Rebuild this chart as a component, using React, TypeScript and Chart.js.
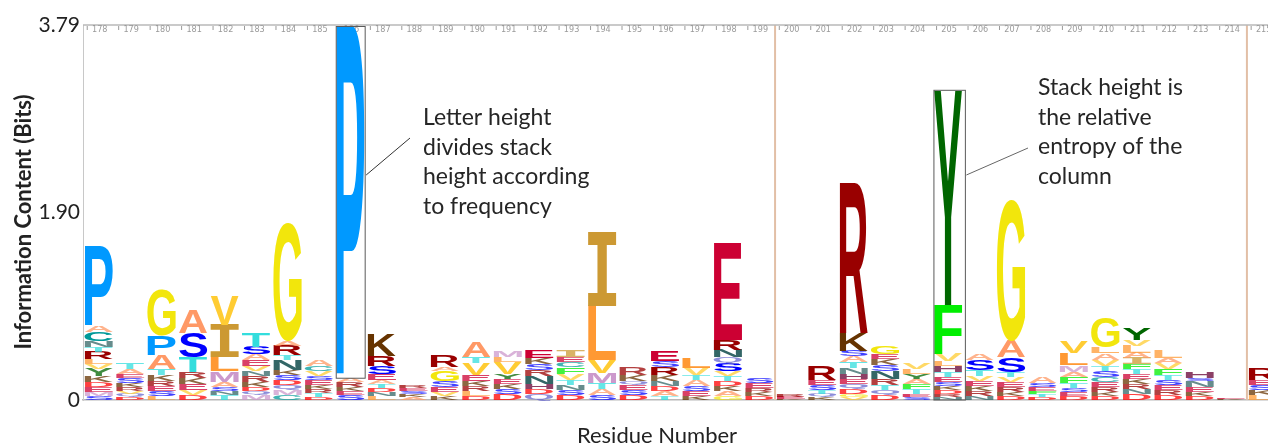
import { useEffect, useRef } from "react";
import { Chart, registerables } from "chart.js";

Chart.register(...registerables);

// Residue numbers (columns of the logo)
const residues = [
  178, 179, 180, 181, 182, 183, 184, 185, 186, 187, 188, 189, 190, 191, 192, 193, 194, 195, 196,
  197, 198, 199, 200, 201, 202, 203, 204, 205, 206, 207, 208, 209, 210, 211, 212, 213, 214, 215,
];

// Letters of each stack, listed from top to bottom
const stackLetters = [
  "PACNTRLVYKDEMS", "TAESKRVQD", "GPATKRESL", "ASTRKEVD", "VILMASNT", "TSAEVNRKDQM",
  "GARTNKSDQMC", "ACVSEKRTD", "PARKES", "KRSEATDNL", "RESKA", "RAGSEVK", "ATVEKRLD",
  "MLVYEKSD", "EKSRNHDQ", "IECFVTNSD", "ILVMTAS", "RKQESD", "ESRKNDAT", "LVTASEK",
  "ERNQSVTDKAG", "SERKD", "REK", "RESTQK", "RKSATNHEQDGV", "GEKSNRTQD", "VLYAFTES",
  "YFVLHTESKDRN", "ASTVEKRN", "GASTVERKD", "ASEFTD", "VLMAFTSED", "GLAVTSCERKD",
  "YVLAIFTEKRND", "LAVFTSERD", "HSNEKD", "EK", "RESKL",
];

// Letter heights in bits, same order as the letters
const stackBits = [
  [0.81, 0.06, 0.09, 0.06, 0.05, 0.08, 0.05, 0.05, 0.07, 0.06, 0.05, 0.05, 0.04, 0.04],
  [0.06, 0.05, 0.04, 0.05, 0.04, 0.04, 0.03, 0.03, 0.03],
  [0.46, 0.2, 0.14, 0.06, 0.06, 0.05, 0.05, 0.05, 0.04],
  [0.23, 0.25, 0.15, 0.06, 0.06, 0.06, 0.05, 0.05],
  [0.3, 0.33, 0.14, 0.11, 0.05, 0.04, 0.04, 0.05],
  [0.14, 0.08, 0.06, 0.06, 0.05, 0.05, 0.06, 0.05, 0.04, 0.04, 0.05],
  [1.2, 0.05, 0.1, 0.05, 0.1, 0.05, 0.05, 0.05, 0.05, 0.05, 0.05],
  [0.06, 0.05, 0.05, 0.04, 0.05, 0.04, 0.04, 0.04, 0.03],
  [3.57, 0.04, 0.05, 0.04, 0.04, 0.05],
  [0.22, 0.1, 0.08, 0.06, 0.04, 0.04, 0.04, 0.04, 0.04],
  [0.03, 0.03, 0.03, 0.03, 0.03],
  [0.12, 0.04, 0.1, 0.06, 0.05, 0.04, 0.04],
  [0.15, 0.06, 0.12, 0.06, 0.05, 0.05, 0.05, 0.04],
  [0.07, 0.05, 0.12, 0.05, 0.05, 0.05, 0.05, 0.06],
  [0.08, 0.06, 0.06, 0.06, 0.08, 0.05, 0.05, 0.06],
  [0.07, 0.05, 0.05, 0.07, 0.06, 0.05, 0.05, 0.05, 0.05],
  [0.75, 0.55, 0.13, 0.1, 0.06, 0.06, 0.05],
  [0.07, 0.06, 0.04, 0.05, 0.05, 0.05],
  [0.1, 0.06, 0.08, 0.06, 0.05, 0.05, 0.05, 0.04],
  [0.1, 0.07, 0.05, 0.06, 0.05, 0.05, 0.04],
  [0.98, 0.1, 0.08, 0.06, 0.08, 0.05, 0.05, 0.05, 0.05, 0.05, 0.04],
  [0.05, 0.05, 0.04, 0.04, 0.04],
  [0.02, 0.02, 0.01],
  [0.14, 0.05, 0.05, 0.04, 0.03, 0.03],
  [1.52, 0.18, 0.06, 0.06, 0.06, 0.06, 0.05, 0.05, 0.05, 0.05, 0.03, 0.03],
  [0.08, 0.05, 0.06, 0.06, 0.08, 0.06, 0.05, 0.05, 0.05],
  [0.06, 0.05, 0.05, 0.05, 0.05, 0.05, 0.03, 0.03],
  [2.17, 0.5, 0.07, 0.05, 0.06, 0.05, 0.05, 0.04, 0.04, 0.04, 0.03, 0.03],
  [0.07, 0.1, 0.06, 0.05, 0.05, 0.05, 0.05, 0.04],
  [1.42, 0.17, 0.15, 0.05, 0.05, 0.05, 0.05, 0.04, 0.04],
  [0.06, 0.04, 0.04, 0.03, 0.03, 0.03],
  [0.12, 0.12, 0.07, 0.05, 0.06, 0.05, 0.04, 0.04, 0.04],
  [0.3, 0.06, 0.07, 0.06, 0.05, 0.06, 0.05, 0.05, 0.05, 0.04, 0.04],
  [0.12, 0.06, 0.07, 0.06, 0.06, 0.05, 0.05, 0.05, 0.05, 0.05, 0.05, 0.06],
  [0.07, 0.05, 0.06, 0.06, 0.05, 0.05, 0.05, 0.05, 0.05],
  [0.06, 0.03, 0.06, 0.05, 0.04, 0.04],
  [0.01, 0.01],
  [0.12, 0.05, 0.05, 0.05, 0.05],
];

const yTickValues = [0, 1.895, 3.79];
const yTickLabels = ["0", "1.90", "3.79"];
const dividerResidues = [199.5, 214.5];
const highlightedResidues = [186, 205];

const letterColors: Record<string, string> = {
  A: "#FF9966", C: "#009999", D: "#FF0000", E: "#CC0033", F: "#00EE00", G: "#F2E60C",
  H: "#660033", I: "#CC9933", K: "#663300", L: "#FF9933", M: "#CC99CC", N: "#336666",
  P: "#0099FF", Q: "#6666CC", R: "#990000", S: "#0000FF", T: "#33DDDD", V: "#FFCC33",
  W: "#66CC66", Y: "#006600",
};

const UI_FONT = "Lato, 'Open Sans', sans-serif";
const LETTER_FONT = "bold 100px 'Liberation Sans', Arial, sans-serif";
const SERIF_I_FONT = "bold 100px 'DejaVu Sans Mono', 'Liberation Mono', monospace";

export default function App() {
  const ref = useRef<HTMLCanvasElement>(null);

  useEffect(() => {
    document.body.style.margin = "0";
    document.body.style.overflow = "hidden";
    const canvas = ref.current!;

    const maxLen = Math.max(...stackLetters.map((s) => s.length));
    const datasets: any[] = [];
    for (let k = 0; k < maxLen; k++) {
      const letters: string[] = [];
      const data = residues.map((r, i) => {
        const L = stackLetters[i];
        const idx = L.length - 1 - k;
        letters.push(idx >= 0 ? L[idx] : "");
        return { x: r, y: idx >= 0 ? stackBits[i][idx] : 0 };
      });
      datasets.push({
        label: "rank" + k,
        data,
        letters,
        backgroundColor: "rgba(0,0,0,0)",
        borderWidth: 0,
        categoryPercentage: 0.9,
        barPercentage: 1,
      });
    }

    const fontFor = (ch: string) => (ch === "I" ? SERIF_I_FONT : LETTER_FONT);
    const glyphCache: Record<string, any> = {};
    const measure = (c: CanvasRenderingContext2D, ch: string) => {
      if (!glyphCache[ch]) {
        c.font = fontFor(ch);
        const m = c.measureText(ch);
        glyphCache[ch] = {
          l: m.actualBoundingBoxLeft,
          r: m.actualBoundingBoxRight,
          a: m.actualBoundingBoxAscent,
          d: m.actualBoundingBoxDescent,
        };
      }
      return glyphCache[ch];
    };

    const logoPlugin = {
      id: "logoPlugin",
      beforeDatasetsDraw(chart: any) {
        const c = chart.ctx as CanvasRenderingContext2D;
        const xs = chart.scales.x;
        const area = chart.chartArea;
        c.save();
        // divider lines
        c.strokeStyle = "#E2BFA6";
        c.lineWidth = 2;
        dividerResidues.forEach((v) => {
          const px = xs.getPixelForValue(v);
          c.beginPath();
          c.moveTo(px, area.top);
          c.lineTo(px, area.bottom);
          c.stroke();
        });
        // top border
        c.strokeStyle = "#B8B8B8";
        c.lineWidth = 1.5;
        c.beginPath();
        c.moveTo(area.left, area.top);
        c.lineTo(area.right, area.top);
        c.stroke();
        // top residue labels & tick marks
        c.font = "9px 'Liberation Sans Narrow', 'DejaVu Sans Condensed', sans-serif";
        c.fillStyle = "#9A9A9A";
        c.textAlign = "center";
        c.textBaseline = "middle";
        c.strokeStyle = "#9A9A9A";
        c.lineWidth = 1;
        residues.forEach((r) => {
          const px = xs.getPixelForValue(r);
          if (px > area.right + 10) return;
          c.fillText(String(r), px + 1, area.top + 4.5);
          c.beginPath();
          c.moveTo(px - 11.5, area.top + 1);
          c.lineTo(px - 11.5, area.top + 5);
          c.stroke();
        });
        c.restore();
      },
      afterDatasetsDraw(chart: any) {
        const c = chart.ctx as CanvasRenderingContext2D;
        const xs = chart.scales.x;
        const ys = chart.scales.y;
        c.save();
        chart.data.datasets.forEach((ds: any, d: number) => {
          const meta = chart.getDatasetMeta(d);
          meta.data.forEach((bar: any, i: number) => {
            const ch = ds.letters[i];
            if (!ch) return;
            const p = bar.getProps(["x", "y", "base", "width"], true);
            const top = Math.min(p.y, p.base);
            const h = Math.abs(p.base - p.y);
            if (h < 0.4) return;
            const g = measure(c, ch);
            const gw = g.l + g.r;
            const gh = g.a + g.d;
            c.save();
            c.globalAlpha = h < 7 ? 0.75 : 1;
            c.translate(p.x - p.width / 2, top);
            c.scale(p.width / gw, h / gh);
            c.font = fontFor(ch);
            c.textAlign = "left";
            c.textBaseline = "alphabetic";
            c.fillStyle = letterColors[ch] || "#888";
            c.fillText(ch, g.l, g.a);
            c.restore();
          });
        });

        // highlight boxes around two columns
        c.strokeStyle = "#5A5A5A";
        c.lineWidth = 1;
        const stackTop = (r: number) => {
          const i = residues.indexOf(r);
          return stackBits[i].reduce((s, v) => s + v, 0);
        };
        const r1 = highlightedResidues[0];
        const i1 = residues.indexOf(r1);
        const pBottom = stackTop(r1) - stackBits[i1][0];
        const bx1 = xs.getPixelForValue(r1 - 0.45);
        const bx2 = xs.getPixelForValue(r1 + 0.47);
        const by1 = ys.getPixelForValue(stackTop(r1)) + 1.5;
        c.strokeRect(bx1, by1, bx2 - bx1, ys.getPixelForValue(pBottom) - by1);
        const r2 = highlightedResidues[1];
        const yx1 = xs.getPixelForValue(r2 - 0.45);
        const yx2 = xs.getPixelForValue(r2 + 0.55);
        const yy1 = ys.getPixelForValue(stackTop(r2));
        c.strokeRect(yx1, yy1, yx2 - yx1, ys.getPixelForValue(0) - yy1);

        // annotation pointer lines
        c.strokeStyle = "#333";
        c.beginPath();
        c.moveTo(410, 138);
        c.lineTo(bx2 + 1, 175);
        c.stroke();
        c.strokeStyle = "#666";
        c.beginPath();
        c.moveTo(1028, 148);
        c.lineTo(yx2 + 1, 175);
        c.stroke();

        // annotation texts
        c.fillStyle = "#262626";
        c.font = `23px ${UI_FONT}`;
        c.textAlign = "left";
        c.textBaseline = "middle";
        ["Letter height", "divides stack", "height according", "to frequency"].forEach((t, k) =>
          c.fillText(t, 423, 118 + k * 29.5)
        );
        ["Stack height is", "the relative", "entropy of the", "column"].forEach((t, k) =>
          c.fillText(t, 1038, 88 + k * 29.5)
        );

        // axis titles
        c.fillStyle = "#222";
        c.font = `22px ${UI_FONT}`;
        c.textAlign = "center";
        c.fillText("Residue Number", 657, 436);
        c.save();
        c.translate(24, 222);
        c.rotate(-Math.PI / 2);
        c.font = `bold 22px ${UI_FONT}`;
        c.fillText("Information Content (Bits)", 0, 0);
        c.restore();
        c.restore();
      },
    };

    const chart = new Chart(canvas, {
      type: "bar",
      data: { datasets },
      options: {
        responsive: false,
        animation: false,
        layout: { padding: { top: 25, right: 0, left: 0, bottom: 0 } },
        plugins: { legend: { display: false }, tooltip: { enabled: false } },
        scales: {
          x: {
            type: "linear",
            stacked: true,
            offset: false,
            min: 177.5,
            max: 215.17,
            grid: { display: false, drawTicks: false },
            border: { display: true, color: "#B8B8B8", width: 1.5 },
            ticks: { display: false },
            afterFit: (s: any) => {
              s.height = 46;
            },
          },
          y: {
            stacked: true,
            min: 0,
            max: 3.79,
            grid: { display: false, drawTicks: false },
            border: { display: true, color: "#C8C8C8", width: 1 },
            afterBuildTicks: (s: any) => {
              s.ticks = yTickValues.map((v) => ({ value: v }));
            },
            ticks: {
              padding: 3,
              color: "#222",
              font: { family: UI_FONT, size: 21 },
              callback: (_v: any, idx: number) => yTickLabels[idx],
            },
            afterFit: (s: any) => {
              s.width = 83;
            },
          },
        },
      } as any,
      plugins: [logoPlugin],
    });
    return () => chart.destroy();
  }, []);

  return <canvas ref={ref} width={1268} height={446} style={{ display: "block" }} />;
}
